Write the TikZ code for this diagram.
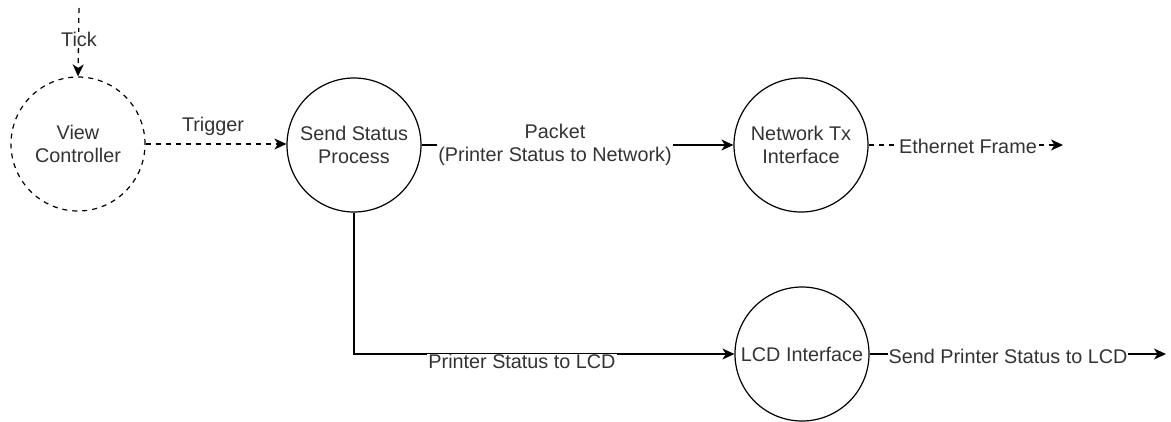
\documentclass[tikz,border=0pt]{standalone}
\usepackage{fontspec}
\setmainfont{Liberation Sans}
\usetikzlibrary{arrows.meta}
\definecolor{txt}{HTML}{333333}
\begin{document}
\begin{tikzpicture}[x=1pt,y=-1pt,
  font=\fontsize{19.8}{23}\selectfont,
  proc/.style={circle,draw=black,line width=1.2pt,minimum size=134pt,inner sep=0pt,align=center,text=txt},
  dproc/.style={proc,dash pattern=on 5pt off 5pt},
  flow/.style={line width=1.3pt,draw=black,-{Stealth[length=12pt,width=11pt,inset=3.5pt]}},
  dflow/.style={flow,dash pattern=on 5pt off 5pt},
  lbl/.style={fill=white,text=txt,inner xsep=1pt,inner ysep=0pt,align=center}]
\useasboundingbox (0,0) rectangle (1171,421);
\node[dproc] (vc) at (78,144) {View\\Controller};
\node[proc] (ssp) at (354,145) {Send Status\\Process};
\node[proc] (ntx) at (801,145) {Network Tx\\Interface};
\node[proc] (lcd) at (802,354) {LCD Interface};
\coordinate (tickstart) at (79,8);
\coordinate (ethend) at (1063,145);
\coordinate (lcdend) at (1166,354);
\coordinate (bend) at (354,354);
% Tick
\draw[dflow] (tickstart) -- (vc.north);
\node[lbl] (ticklbl) at (79,39) {Tick};
% Trigger
\draw[dflow] (vc.east) -- (ssp.west |- vc.east);
\node[text=txt] (triglbl) at (213,126) {Trigger};
% Packet
\draw[flow] (ssp.east) -- (ntx.west);
\node[lbl] (pktlbl) at (555,145) {Packet\\(Printer Status to Network)};
% Ethernet
\draw[dflow] (ntx.east) -- (ethend);
\node[lbl] (ethlbl) at (968,146) {Ethernet Frame};
% Printer status to LCD
\draw[flow] (ssp.south) -- (bend) -- (lcd.west);
\node[lbl] (pslbl) at (522,361) {Printer Status to LCD};
% Send to LCD
\draw[flow] (lcd.east) -- (lcdend);
\node[lbl] (slbl) at (1008,356) {Send Printer Status to LCD};
\end{tikzpicture}
\end{document}
